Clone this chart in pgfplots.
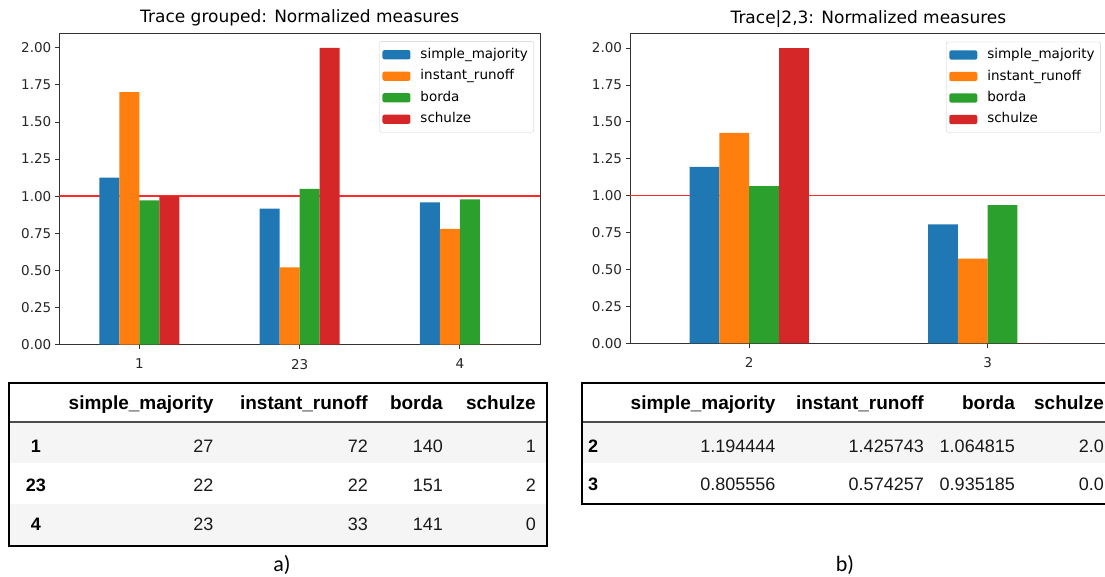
\documentclass[border=0pt]{standalone}
\usepackage{pgfplots}
\pgfplotsset{compat=1.18}
\usepackage{fontspec}
\setmainfont{DejaVu Sans}
\newfontfamily\chartfont{DejaVu Sans}
\newfontfamily\tablefont{Liberation Sans}
\newfontfamily\labfont{Carlito}
\definecolor{c1}{HTML}{1F77B4}
\definecolor{c2}{HTML}{FF7F0E}
\definecolor{c3}{HTML}{2CA02C}
\definecolor{c4}{HTML}{D62728}
\definecolor{refred}{HTML}{FF2A2A}
\definecolor{spine}{HTML}{333333}
\definecolor{rowgray}{HTML}{F5F5F5}

\pgfplotsset{
  mplbar/.style={
    scale only axis, anchor=south west,
    ymin=0, ymax=2.1,
    ytick={0,0.25,0.5,0.75,1,1.25,1.5,1.75,2},
    tick pos=left, tick align=outside, major tick length=4.5pt,
    tick style={spine, line width=0.9pt},
    axis line style={spine, line width=0.9pt},
    ticklabel style={font=\chartfont\fontsize{13.5}{16}\selectfont, text=black!85},
    /pgf/number format/assume math mode=true,
    yticklabel style={/pgf/number format/fixed, /pgf/number format/fixed zerofill, /pgf/number format/precision=2},
    xticklabel style={yshift=-6.5pt},
    title style={font=\chartfont\fontsize{17}{20}\selectfont, at={(0.5,1)}, anchor=base, yshift=4pt, inner sep=0pt},
    legend style={at={(1,1)}, anchor=north east, xshift=-6pt, yshift=-8.5pt,
       draw=black!20, rounded corners=2pt, fill=white,
       font=\chartfont\fontsize{13.5}{16}\selectfont, inner xsep=3pt, inner ysep=5.5pt,
       row sep=6.5pt, cells={anchor=west},
       /tikz/every odd column/.append style={column sep=7pt},
       nodes={inner xsep=3pt, inner ysep=1pt, text height=10pt, text depth=3pt}},
    legend image code/.code={\fill[#1] (0pt,-4.6pt) rectangle (28pt,4.6pt);},
  },
  bs/.style={ybar, bar width=0.125, bar shift=#1, draw=none},
}

\begin{document}
\begin{tikzpicture}
\useasboundingbox (0,0) rectangle (1105pt,-577pt);

% ---------- left chart ----------
\begin{axis}[mplbar, at={(59.3pt,-344.5pt)}, width=480.7pt, height=311.5pt,
  xmin=-0.5, xmax=2.5, xtick={0,1,2}, xticklabels={1,23,4},
  title={Trace grouped: Normalized measures}]
\addplot[color=refred, solid, line width=1.5pt, forget plot, mark=none] coordinates {(-0.5,1) (2.5,1)};
\addplot[bs=-0.1875, fill=c1] coordinates {(0,1.125) (1,0.916667) (2,0.958333)};
\addplot[bs=-0.0625, fill=c2] coordinates {(0,1.700787) (1,0.519685) (2,0.779528)};
\addplot[bs=0.0625, fill=c3] coordinates {(0,0.972222) (1,1.048611) (2,0.979167)};
\addplot[bs=0.1875, fill=c4] coordinates {(0,1.0) (1,2.0) (2,0.0)};
\legend{simple\_majority, instant\_runoff, borda, schulze}
\end{axis}

% ---------- right chart ----------
\begin{axis}[mplbar, at={(630pt,-343.3pt)}, width=476.8pt, height=310pt,
  xmin=-0.5, xmax=1.5, xtick={0,1}, xticklabels={2,3},
  title={Trace|2,3: Normalized measures}]
\addplot[color=refred, solid, line width=1.5pt, forget plot, mark=none] coordinates {(-0.5,1) (1.5,1)};
\addplot[bs=-0.1875, fill=c1] coordinates {(0,1.194444) (1,0.805556)};
\addplot[bs=-0.0625, fill=c2] coordinates {(0,1.425743) (1,0.574257)};
\addplot[bs=0.0625, fill=c3] coordinates {(0,1.064815) (1,0.935185)};
\addplot[bs=0.1875, fill=c4] coordinates {(0,2.0) (1,0.0)};
\legend{simple\_majority, instant\_runoff, borda, schulze}
\end{axis}

% reference line y = 1 of the right chart, redrawn on top where no bar covers it
% (axis bottom -343.3pt, height 310pt for 0..2.1; group "2" bars span x 689.6pt..808.8pt)
\draw[refred, line width=1.5pt] (630pt,{-343.3pt+310pt/2.1}) -- (689.6pt,{-343.3pt+310pt/2.1});
\draw[refred, line width=1.5pt] (808.8pt,{-343.3pt+310pt/2.1}) -- (1105pt,{-343.3pt+310pt/2.1});

% ---------- tables ----------
\begin{scope}[x=1pt,y=-1pt]
\tikzset{hd/.style={anchor=base east, inner sep=0pt, font=\tablefont\bfseries\fontsize{19}{22}\selectfont},
         vl/.style={anchor=base east, inner sep=0pt, font=\tablefont\fontsize{18}{21}\selectfont, text=black!90},
         ix/.style={anchor=base, inner sep=0pt, font=\tablefont\bfseries\fontsize{18}{21}\selectfont}}
% left table
\fill[rowgray] (9.5,422.5) rectangle (546.3,463.3);
\fill[rowgray] (9.5,504) rectangle (546.3,544.5);
\draw[black!70, line width=2pt] (9.5,421.5) -- (546.3,421.5);
\draw[black, line width=2pt] (8.5,382.7) rectangle (547.3,545.5);
\node[hd] at (213.6,409.5) {simple\_majority};
\node[hd] at (368,409.5) {instant\_runoff};
\node[hd] at (443,409.5) {borda};
\node[hd] at (536,409.5) {schulze};
\node[ix] at (36,452.4) {1};
\node[ix] at (36,491.9) {23};
\node[ix] at (36,530.9) {4};
\node[vl] at (213.6,452.4) {27};  \node[vl] at (368,452.4) {72};  \node[vl] at (443,452.4) {140}; \node[vl] at (536,452.4) {1};
\node[vl] at (213.6,491.9) {22};  \node[vl] at (368,491.9) {22};  \node[vl] at (443,491.9) {151}; \node[vl] at (536,491.9) {2};
\node[vl] at (213.6,530.9) {23};  \node[vl] at (368,530.9) {33};  \node[vl] at (443,530.9) {141}; \node[vl] at (536,530.9) {0};
% right table
\fill[rowgray] (582.7,422.5) rectangle (1110,463.3);
\draw[black!70, line width=2pt] (582.7,421.5) -- (1110,421.5);
\draw[black, line width=2pt] (581.7,382.7) rectangle (1120,504);
\node[hd] at (775.6,409.5) {simple\_majority};
\node[hd] at (924,409.5) {instant\_runoff};
\node[hd] at (1015,409.5) {borda};
\node[hd] at (1104,409.5) {schulze};
\node[ix] at (593,452.4) {2};
\node[ix] at (593,490.4) {3};
\node[vl] at (775.6,452.4) {1.194444}; \node[vl] at (924,452.4) {1.425743}; \node[vl] at (1015,452.4) {1.064815}; \node[vl] at (1104,452.4) {2.0};
\node[vl] at (775.6,490.4) {0.805556}; \node[vl] at (924,490.4) {0.574257}; \node[vl] at (1015,490.4) {0.935185}; \node[vl] at (1104,490.4) {0.0};
% panel labels
\node[font=\labfont\fontsize{22}{25}\selectfont, inner sep=0pt] at (282,565) {a)};
\node[font=\labfont\fontsize{22}{25}\selectfont, inner sep=0pt] at (845,565) {b)};
\end{scope}
\end{tikzpicture}
\end{document}
